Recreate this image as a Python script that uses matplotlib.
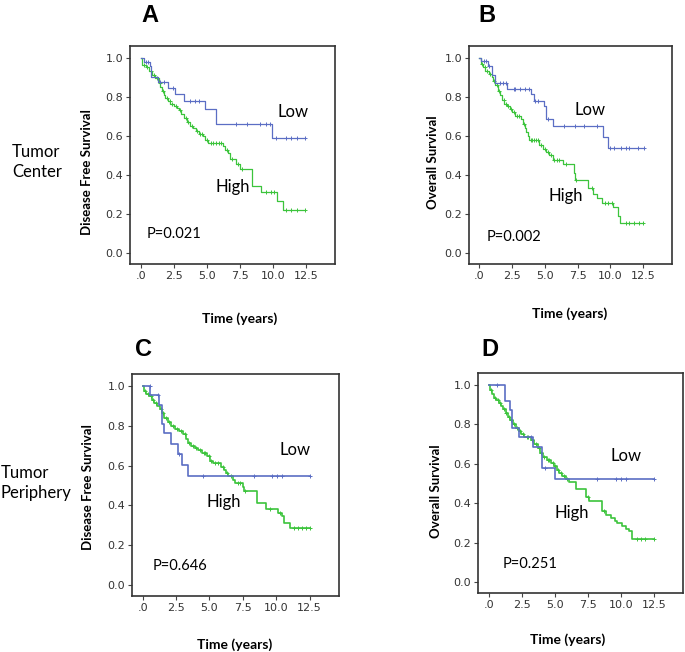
import numpy as np
import matplotlib
matplotlib.use("Agg")
import matplotlib.pyplot as plt

# ---- data ----
# panel A (tumor center, disease free survival)
a_low_t = [0, 0.25, 0.68, 0.8, 1.33, 2.1, 2.6, 3.3, 4.9, 5.7, 9.9, 12.45]
a_low_s = [1.0, 0.98, 0.956, 0.90, 0.874, 0.844, 0.815, 0.78, 0.74, 0.66, 0.59, 0.59]
a_low_c = [0.4, 0.58, 1.5, 1.75, 2.45, 3.75, 4.1, 4.45, 7.25, 8.05, 9.0, 9.5, 9.75,
           10.25, 11.0, 11.4, 11.8, 12.4]
a_high_t = [0, 0.12, 0.38, 0.62, 0.88, 1.12, 1.38, 1.5, 1.62, 1.75, 1.88, 2.08, 2.25,
            2.5, 2.75, 2.88, 3.08, 3.25, 3.5, 3.75, 4.0, 4.18, 4.38, 4.75, 4.88, 5.12,
            6.25, 6.38, 6.62, 6.75, 7.25, 7.5, 8.42, 9.08, 10.32, 10.8, 12.45]
a_high_s = [1.0, 0.965, 0.95, 0.93, 0.91, 0.895, 0.87, 0.85, 0.83, 0.81, 0.795, 0.78,
            0.765, 0.755, 0.745, 0.73, 0.71, 0.69, 0.67, 0.65, 0.64, 0.625, 0.61, 0.60,
            0.58, 0.565, 0.55, 0.53, 0.51, 0.48, 0.455, 0.43, 0.345, 0.315, 0.268,
            0.218, 0.218]
a_high_c = [0.25, 0.5, 0.75, 1.0, 1.25, 1.45, 1.7, 2.0, 2.2, 2.4, 2.65, 3.0, 3.4, 3.6,
            3.9, 4.3, 4.5, 4.65, 5.0, 5.3, 5.5, 5.7, 5.9, 6.1, 6.5, 6.9, 7.4, 7.7, 9.5,
            9.85, 10.1, 11.0, 11.4, 11.8, 12.4]

# panel B (tumor center, overall survival)
b_low_t = [0, 0.1, 0.65, 0.95, 1.15, 2.08, 3.95, 4.15, 4.95, 5.08, 5.65, 9.45, 9.78, 12.55]
b_low_s = [1.0, 0.983, 0.96, 0.912, 0.87, 0.84, 0.815, 0.78, 0.755, 0.684, 0.65, 0.593,
           0.538, 0.538]
b_low_c = [0.33, 0.52, 0.7, 1.6, 1.8, 2.0, 2.6, 2.75, 3.1, 3.45, 3.8, 4.25, 4.5, 5.2,
           6.45, 7.3, 7.95, 9.0, 10.0, 10.25, 10.8, 11.2, 11.45, 12.1, 12.55]
b_high_t = [0, 0.08, 0.25, 0.45, 0.7, 0.95, 1.02, 1.15, 1.4, 1.58, 1.75, 1.9, 2.08,
            2.32, 2.5, 2.7, 3.2, 3.32, 3.45, 3.58, 3.7, 3.8, 4.58, 4.82, 5.08, 5.32,
            5.58, 6.4, 7.2, 7.32, 8.28, 8.7, 8.95, 9.32, 10.2, 10.58, 10.7, 12.5]
b_high_s = [1.0, 0.97, 0.95, 0.93, 0.915, 0.9, 0.88, 0.86, 0.83, 0.81, 0.785, 0.765,
            0.755, 0.74, 0.72, 0.70, 0.685, 0.66, 0.64, 0.62, 0.60, 0.58, 0.555, 0.535,
            0.515, 0.50, 0.475, 0.455, 0.41, 0.375, 0.335, 0.30, 0.28, 0.255, 0.235,
            0.19, 0.155, 0.155]
b_high_c = [0.2, 0.4, 0.6, 0.8, 1.1, 1.3, 1.5, 1.85, 2.0, 2.2, 2.4, 2.6, 2.85, 3.0,
            3.4, 3.9, 4.0, 4.2, 4.35, 4.5, 4.7, 5.0, 5.2, 5.45, 5.7, 5.9, 6.1, 6.6,
            7.35, 8.6, 9.6, 9.85, 10.1, 11.2, 11.45, 11.8, 12.2, 12.5]

# panel C (tumor periphery, disease free survival)
c_low_t = [0, 0.58, 1.2, 1.46, 1.63, 2.14, 2.64, 2.94, 3.39, 12.5]
c_low_s = [1.0, 0.955, 0.903, 0.81, 0.763, 0.708, 0.658, 0.605, 0.548, 0.548]
c_low_c = [0.55, 1.15, 2.75, 4.5, 8.3, 9.7, 10.05, 10.4, 12.5]
c_high_t = [0, 0.13, 0.25, 0.5, 0.68, 0.88, 1.06, 1.26, 1.46, 1.63, 1.88, 2.14, 2.39,
            2.71, 3.02, 3.27, 3.39, 3.64, 3.89, 4.15, 4.47, 4.82, 5.03, 5.28, 5.83,
            6.08, 6.23, 6.41, 6.73, 6.91, 7.49, 7.59, 8.54, 9.22, 10.1, 10.43, 10.6,
            11.0, 12.5]
c_high_s = [1.0, 0.975, 0.96, 0.95, 0.93, 0.915, 0.9, 0.885, 0.865, 0.84, 0.82, 0.80,
            0.785, 0.775, 0.76, 0.735, 0.715, 0.70, 0.69, 0.68, 0.665, 0.65, 0.625,
            0.615, 0.59, 0.575, 0.56, 0.545, 0.525, 0.51, 0.49, 0.47, 0.41, 0.38,
            0.36, 0.345, 0.31, 0.285, 0.285]
c_high_c = [0.2, 0.4, 0.6, 0.8, 1.0, 1.35, 1.55, 1.75, 2.0, 2.3, 2.55, 2.9, 3.15, 3.5,
            3.75, 4.0, 4.3, 4.6, 4.7, 4.95, 5.15, 5.45, 5.65, 6.0, 6.3, 6.6, 7.1, 7.3,
            7.65, 9.5, 10.3, 11.3, 11.6, 11.9, 12.2, 12.5]

# panel D (tumor periphery, overall survival)
d_low_t = [0, 1.26, 1.63, 1.78, 2.28, 3.34, 4.04, 5.05, 12.5]
d_low_s = [1.0, 0.92, 0.87, 0.78, 0.734, 0.687, 0.58, 0.523, 0.523]
d_low_c = [0.6, 3.2, 4.3, 8.2, 9.6, 10.0, 10.4, 12.5]
d_high_t = [0, 0.13, 0.25, 0.38, 0.58, 0.78, 0.95, 1.08, 1.28, 1.46, 1.63, 1.83, 2.08,
            2.28, 2.46, 2.71, 3.21, 3.46, 3.71, 3.89, 4.09, 4.39, 4.72, 4.97, 5.15,
            5.35, 5.55, 5.85, 6.1, 6.6, 7.4, 7.56, 8.61, 8.86, 9.24, 9.56, 9.74, 10.07,
            10.37, 10.62, 10.87, 12.5]
d_high_s = [1.0, 0.975, 0.955, 0.935, 0.925, 0.91, 0.895, 0.875, 0.855, 0.835, 0.82,
            0.80, 0.78, 0.765, 0.75, 0.735, 0.72, 0.70, 0.68, 0.655, 0.635, 0.62, 0.605,
            0.59, 0.57, 0.555, 0.54, 0.52, 0.505, 0.47, 0.43, 0.41, 0.36, 0.34, 0.325,
            0.31, 0.30, 0.285, 0.27, 0.26, 0.217, 0.217]
d_high_c = [0.2, 0.45, 0.7, 0.9, 1.15, 1.35, 1.55, 1.7, 1.95, 2.15, 2.35, 2.6, 2.9, 3.0,
            3.3, 3.6, 3.8, 4.0, 4.2, 4.5, 4.6, 4.85, 5.05, 5.25, 5.45, 5.7, 5.95, 7.5,
            8.7, 11.2, 11.5, 11.8, 12.5]

x_ticks = [0, 2.5, 5.0, 7.5, 10.0, 12.5]
x_ticklabels = [".0", "2.5", "5.0", "7.5", "10.0", "12.5"]
y_ticks = [0.0, 0.2, 0.4, 0.6, 0.8, 1.0]
y_ticklabels = ["0.0", "0.2", "0.4", "0.6", "0.8", "1.0"]

p_values = ["P=0.021", "P=0.002", "P=0.646", "P=0.251"]
y_titles = ["Disease Free Survival", "Overall Survival",
            "Disease Free Survival", "Overall Survival"]
letters = ["A", "B", "C", "D"]

BLUE = "#5b6ec4"
GREEN = "#3cc43c"
W, H = 685, 652


def px(x, y):
    return x / W, 1 - y / H


def km(ax, t, s, cens, color, lw):
    t = np.asarray(t)
    s = np.asarray(s)
    ax.step(t, s, where="post", color=color, lw=lw)
    idx = np.searchsorted(t, cens, side="right") - 1
    ax.plot(cens, s[idx], ls="none", marker="+", ms=3.5, mew=0.7, color=color)


fig = plt.figure(figsize=(6.85, 6.52), dpi=100)

# axes positions in pixels: left, top, right, bottom
boxes = [(130, 46, 335, 264), (469, 46, 672, 264),
         (132, 374, 339, 596), (478, 373, 683, 593)]
line_w = [0.9, 0.9, 1.2, 1.2]
curves = [
    (a_low_t, a_low_s, a_low_c, a_high_t, a_high_s, a_high_c),
    (b_low_t, b_low_s, b_low_c, b_high_t, b_high_s, b_high_c),
    (c_low_t, c_low_s, c_low_c, c_high_t, c_high_s, c_high_c),
    (d_low_t, d_low_s, d_low_c, d_high_t, d_high_s, d_high_c),
]
low_pos = [(11.5, 0.72), (8.45, 0.73), (11.4, 0.68), (10.4, 0.64)]
high_pos = [(7.0, 0.34), (6.6, 0.29), (6.1, 0.415), (6.3, 0.35)]
p_pos = [(2.5, 0.10), (2.6, 0.08), (2.8, 0.095), (3.1, 0.09)]

for i, (l, t, r, b) in enumerate(boxes):
    ax = fig.add_axes([l / W, 1 - b / H, (r - l) / W, (b - t) / H])
    lt, ls_, lc, ht, hs, hc = curves[i]
    km(ax, ht, hs, hc, GREEN, line_w[i])
    km(ax, lt, ls_, lc, BLUE, line_w[i])
    ax.set_xlim(-0.8, 14.7)
    ax.set_ylim(-0.056, 1.06)
    ax.set_xticks(x_ticks)
    ax.set_xticklabels(x_ticklabels)
    ax.set_yticks(y_ticks)
    ax.set_yticklabels(y_ticklabels)
    ax.tick_params(length=3, width=0.8, color="#444444", labelsize=8,
                   labelcolor="#333333", pad=2)
    for sp in ax.spines.values():
        sp.set_color("#333333")
        sp.set_linewidth(1.2)
    ax.text(*low_pos[i], "Low", ha="center", va="center", fontsize=12, family="Lato")
    ax.text(*high_pos[i], "High", ha="center", va="center", fontsize=12, family="Lato")
    ax.text(*p_pos[i], p_values[i], ha="center", va="center", fontsize=10.5, family="Lato")

# y axis titles
ylab_pos = [(87, 172), (433, 162), (88, 487), (436, 491)]
for i, (x, y) in enumerate(ylab_pos):
    fig.text(*px(x, y), y_titles[i], rotation=90, ha="center", va="center",
             fontsize=9.5, fontweight="bold", family="Lato")

# x axis titles
xlab_pos = [(240, 319), (570, 314), (235, 645), (568, 640)]
for x, y in xlab_pos:
    fig.text(*px(x, y), "Time (years)", ha="center", va="center",
             fontsize=10, fontweight="bold", family="Lato")

# panel letters
letter_pos = [(150, 15), (487, 15), (143, 350), (490, 350)]
for i, (x, y) in enumerate(letter_pos):
    fig.text(*px(x, y), letters[i], ha="center", va="center", fontsize=17,
             fontweight="bold", family="Liberation Sans")

fig.text(*px(12, 162), "Tumor\nCenter", ha="left", va="center", fontsize=12,
         family="Lato", linespacing=1.3)
fig.text(*px(1, 483), "Tumor\nPeriphery", ha="left", va="center", fontsize=12,
         family="Lato", linespacing=1.3)

fig.savefig("out.png", dpi=100)
